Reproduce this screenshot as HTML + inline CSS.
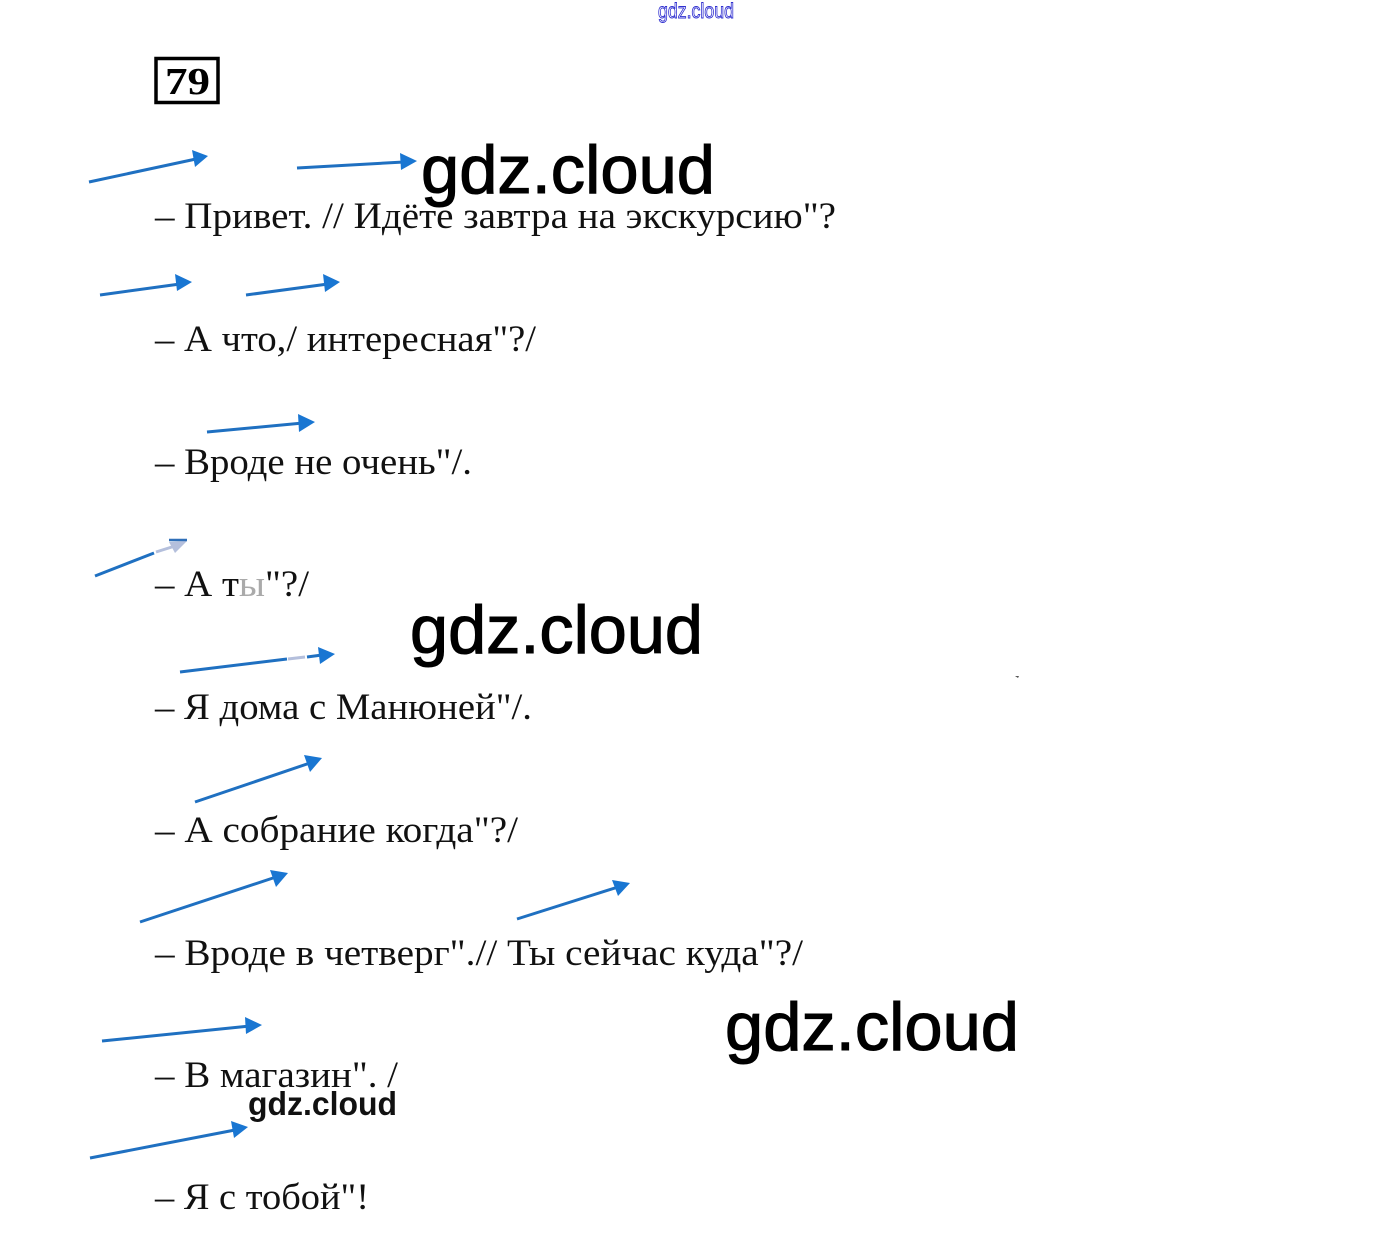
<!DOCTYPE html>
<html lang="ru">
<head>
<meta charset="utf-8">
<style>
html,body{margin:0;padding:0;background:#fff;}
svg{display:block;}
.t{font-family:"Liberation Serif","Noto Serif CJK SC",serif;font-size:37px;fill:#111;}
.w{font-family:"Liberation Sans",sans-serif;font-size:68px;fill:#000;stroke:#000;stroke-width:1.1;}
.a{stroke:#1f70c1;stroke-width:3;fill:none;}
.h{fill:#1976d2;}
</style>
</head>
<body>
<svg width="1390" height="1245" viewBox="0 0 1390 1245" xmlns="http://www.w3.org/2000/svg">
<rect width="1390" height="1245" fill="#fff"/>

<text x="658" y="18" font-family="Liberation Sans, sans-serif" font-size="21" fill="#fff" stroke="#2f2fd0" stroke-width="0.9" textLength="76" lengthAdjust="spacingAndGlyphs">gdz.cloud</text>

<rect x="156" y="58.500" width="62" height="44" fill="#fff" stroke="#000" stroke-width="3.500"/>
<text x="165" y="94" font-family="Liberation Serif, serif" font-weight="700" font-size="38" fill="#000" textLength="45" lengthAdjust="spacingAndGlyphs">79</text>

<!-- text lines -->
<text class="t" x="155" y="228" textLength="681" lengthAdjust="spacingAndGlyphs">– Привет. // Идёте завтра на экскурсию"?</text>
<text class="t" x="155" y="351" textLength="381" lengthAdjust="spacingAndGlyphs">– А что,/ интересная"?/</text>
<text class="t" x="155" y="474" textLength="317" lengthAdjust="spacingAndGlyphs">– Вроде не очень"/.</text>
<text class="t" x="155" y="596" textLength="154" lengthAdjust="spacingAndGlyphs">– А т<tspan fill="#aaa">ы</tspan>"?/</text>
<text class="t" x="155" y="719" textLength="377" lengthAdjust="spacingAndGlyphs">– Я дома с Манюней"/.</text>
<text class="t" x="155" y="842" textLength="363" lengthAdjust="spacingAndGlyphs">– А собрание когда"?/</text>
<text class="t" x="155" y="965" textLength="648" lengthAdjust="spacingAndGlyphs">– Вроде в четверг".// Ты сейчас куда"?/</text>
<text class="t" x="155" y="1087" textLength="243" lengthAdjust="spacingAndGlyphs">– В магазин". /</text>
<text class="t" x="155" y="1209" textLength="214" lengthAdjust="spacingAndGlyphs">– Я с тобой"!</text>

<!-- arrows -->
<line class="a" x1="89" y1="182" x2="196" y2="159"/><polygon class="h" points="208,156 192,150 195,167"/>
<line class="a" x1="297" y1="168" x2="404" y2="162"/><polygon class="h" points="417,161 400,153 401,170"/>
<line class="a" x1="100" y1="295" x2="180" y2="284"/><polygon class="h" points="192,282 175,274 177,291"/>
<line class="a" x1="246" y1="295" x2="328" y2="284"/><polygon class="h" points="340,282 323,274 325,292"/>
<line class="a" x1="207" y1="432" x2="303" y2="423"/><polygon class="h" points="315,422 298,414 299,432"/>

<line class="a" x1="95" y1="576" x2="154" y2="553"/>
<line x1="156" y1="552" x2="175" y2="546" stroke="#b4bfdc" stroke-width="3"/>
<polygon fill="#b4bfdc" points="187,541 169,542 175,553"/>
<line x1="169" y1="540" x2="187" y2="540" stroke="#2f6fb8" stroke-width="2.500"/>

<line class="a" x1="180" y1="672" x2="287" y2="659"/>
<line x1="288" y1="659" x2="305" y2="657" stroke="#b4bfdc" stroke-width="3"/>
<line class="a" x1="307" y1="657" x2="322" y2="655"/>
<polygon class="h" points="335,654 318,647 320,664"/>

<line class="a" x1="195" y1="802" x2="310" y2="763"/><polygon class="h" points="322,758 304,755 310,772"/>
<line class="a" x1="140" y1="922" x2="276" y2="877"/><polygon class="h" points="288,873 270,870 276,887"/>
<line class="a" x1="517" y1="919" x2="618" y2="887"/><polygon class="h" points="630,883 612,880 618,896"/>
<line class="a" x1="102" y1="1041" x2="250" y2="1026"/><polygon class="h" points="262,1025 245,1017 246,1034"/>
<line class="a" x1="90" y1="1158" x2="235" y2="1130"/><polygon class="h" points="248,1127 231,1121 234,1138"/>

<!-- watermarks -->
<text class="w" x="421" y="193" textLength="294" lengthAdjust="spacingAndGlyphs">gdz.cloud</text>
<text class="w" x="410" y="653" textLength="293" lengthAdjust="spacingAndGlyphs">gdz.cloud</text>
<text class="w" x="725" y="1050" textLength="294" lengthAdjust="spacingAndGlyphs">gdz.cloud</text>
<text x="248" y="1115" font-family="Liberation Sans, sans-serif" font-size="33" font-weight="700" fill="#111" textLength="149" lengthAdjust="spacingAndGlyphs">gdz.cloud</text>

<path d="M1015 676 l4 0 l-1 2z" fill="#555"/>
</svg>
</body>
</html>
